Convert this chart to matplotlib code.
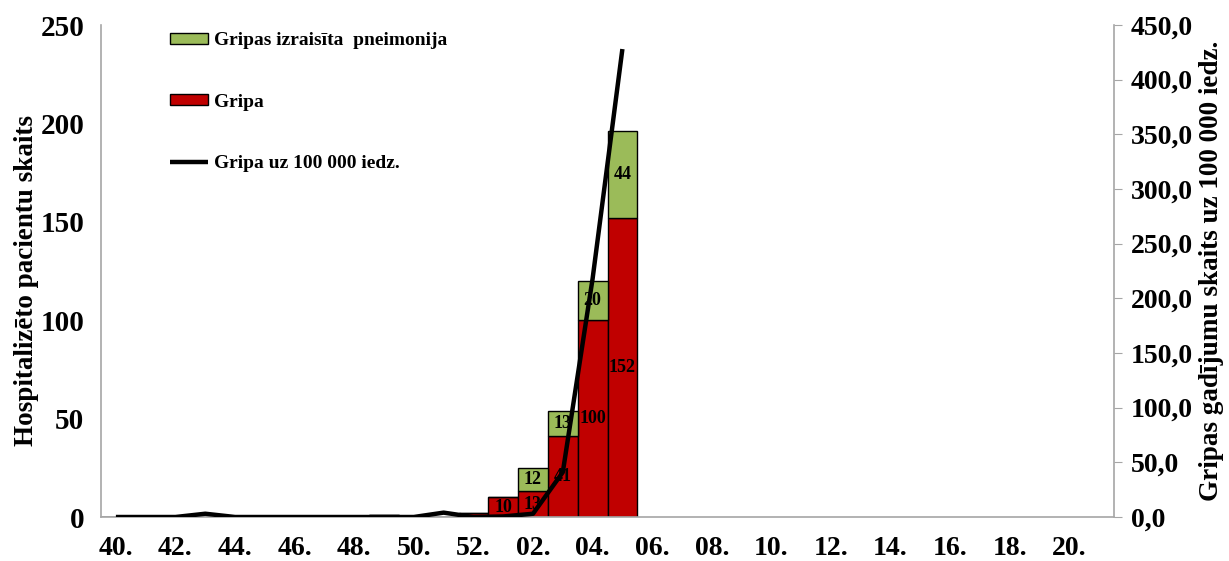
import matplotlib.pyplot as plt
from matplotlib.ticker import FuncFormatter

plt.rcParams["font.family"] = ["Liberation Serif", "DejaVu Serif"]
plt.rcParams["font.weight"] = "bold"

# nedelas: 40.-52. un 01.-21.
weeks = [f"{w:02d}." for w in list(range(40, 53)) + list(range(1, 22))]
gripa = [0, 0, 0, 0, 0, 0, 0, 0, 0, 1, 0, 0, 2, 10, 13, 41, 100, 152]
pneimonija = [0, 0, 0, 0, 0, 0, 0, 0, 0, 0, 0, 0, 0, 0, 12, 13, 20, 44]
uz_100000 = [0, 0, 0, 3, 0, 0, 0, 0, 0, 0, 0, 4, 0, 0.5, 3, 41, 218, 428]

RED = "#C00000"
GREEN = "#9BBB59"
GRAY = "#A6A6A6"

fig = plt.figure(figsize=(12.29, 5.61), dpi=100)
ax = fig.add_axes([101 / 1229, 1 - 517 / 561, (1114 - 101) / 1229, (517 - 25) / 561])
ax2 = ax.twinx()

x = list(range(len(gripa)))
b1 = ax.bar(x, gripa, width=1.0, color=RED, edgecolor="black", linewidth=1,
            label="Gripa")
b2 = ax.bar(x, pneimonija, width=1.0, bottom=gripa, color=GREEN,
            edgecolor="black", linewidth=1, label="Gripas izraisīta  pneimonija")

for i, (g, p) in enumerate(zip(gripa, pneimonija)):
    if g >= 10:
        ax.text(i, g / 2, str(g), ha="center", va="center", fontsize=13,
                fontweight="bold")
    if p >= 10:
        ax.text(i, g + p / 2, str(p), ha="center", va="center", fontsize=13,
                fontweight="bold")

line, = ax2.plot(x, uz_100000, color="black", linewidth=3.2,
                 solid_capstyle="butt", label="Gripa uz 100 000 iedz.")

ax.set_xlim(-0.5, len(weeks) - 0.5)
ax.set_ylim(0, 250)
ax.set_yticks(range(0, 251, 50))
ax2.set_ylim(0, 450)
ax2.set_yticks(range(0, 451, 50))
ax2.yaxis.set_major_formatter(FuncFormatter(lambda v, _: f"{v:.1f}".replace(".", ",")))

ax.set_xticks(range(0, len(weeks), 2))
ax.set_xticklabels(weeks[::2])

for a in (ax, ax2):
    a.spines["top"].set_visible(False)
    for s in ("left", "right", "bottom"):
        a.spines[s].set_color(GRAY)
        a.spines[s].set_linewidth(1.2)
ax.spines["right"].set_visible(False)
ax2.spines["left"].set_visible(False)
ax2.spines["bottom"].set_visible(False)

ax.tick_params(axis="x", length=0, labelsize=20, pad=14)
ax.tick_params(axis="y", length=0, labelsize=21, pad=12)
ax2.tick_params(axis="y", direction="out", length=6, color=GRAY, labelsize=20, pad=6)

ax.set_ylabel("Hospitalizēto pacientu skaits", fontsize=19.5, fontweight="bold")
ax.yaxis.set_label_coords(-0.061, 0.48)
ax2.set_ylabel("Gripas gadījumu skaits uz 100 000 iedz.", fontsize=19.5,
               fontweight="bold")
ax2.yaxis.set_label_coords(1.084, 0.5)

leg = ax2.legend([b2, b1, line],
                 ["Gripas izraisīta  pneimonija", "Gripa", "Gripa uz 100 000 iedz."],
                 loc="upper left", bbox_to_anchor=(170 / 1229, 1 - 32 / 561),
                 bbox_transform=fig.transFigure, frameon=False, fontsize=14,
                 handlelength=1.95, handleheight=0.5, handletextpad=0.3,
                 labelspacing=2.3, borderpad=0, borderaxespad=0)
for t in leg.get_texts():
    t.set_fontweight("bold")

fig.savefig("out.png", dpi=100)
